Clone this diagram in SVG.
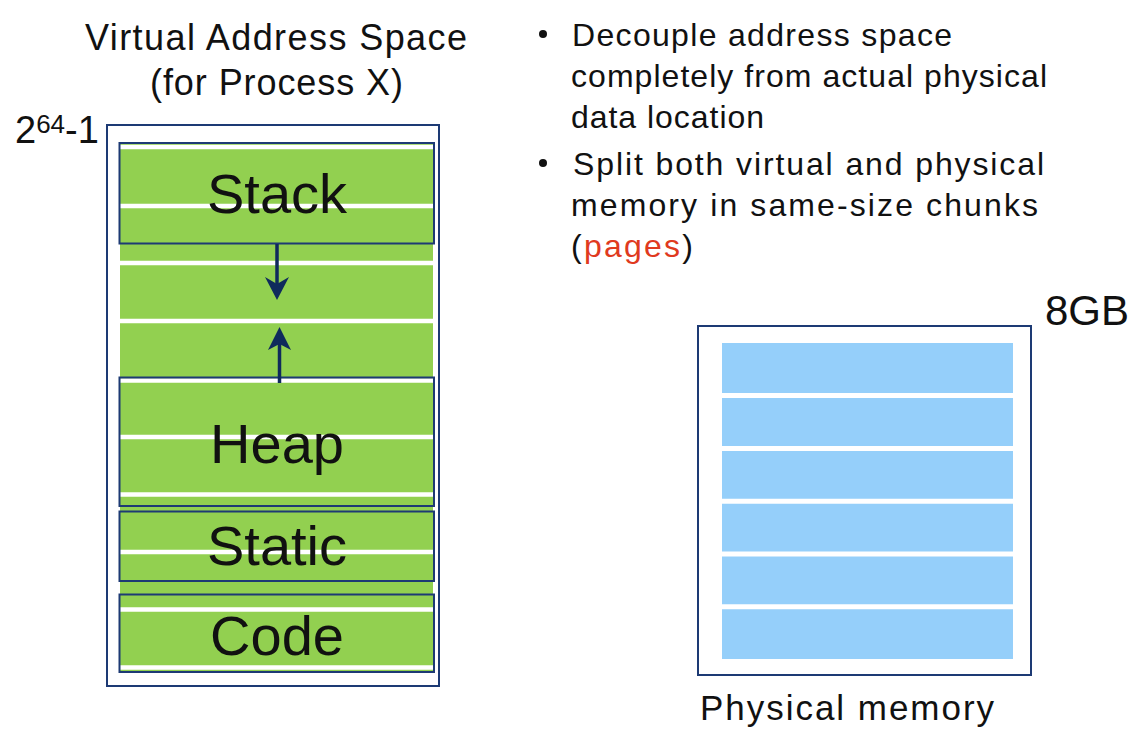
<svg xmlns="http://www.w3.org/2000/svg" width="1145" height="738" viewBox="0 0 1145 738">
<style>
text { font-family: "Liberation Sans", Arial, Helvetica, sans-serif; fill: #111; }
.title { font-size: 36px; text-anchor: middle; }
.seg { font-size: 56px; text-anchor: middle; }
.bul { font-size: 32px; }
.frame { fill: none; stroke: #1D3A74; stroke-width: 2; }
.seg-box { fill: none; stroke: #1D3A74; stroke-width: 2; }
.gline { stroke: #FFFFFF; stroke-width: 4.5; }
.bline { stroke: #FFFFFF; stroke-width: 5; }
.arrow { stroke: #0F2A5C; stroke-width: 3.5; fill: none; }
.head { fill: #0F2A5C; }
.red { fill: #E03A1E; }
</style>
<rect width="1145" height="738" fill="#FFFFFF"/>

<!-- Titles -->
<text class="title" x="276" y="50" textLength="382" lengthAdjust="spacing">Virtual Address Space</text>
<text class="title" x="276.5" y="95" textLength="253" lengthAdjust="spacing">(for Process X)</text>
<text x="15" y="143" font-size="38">2<tspan font-size="26" dy="-10">64</tspan><tspan dy="10">-1</tspan></text>

<!-- Virtual address space -->
<g id="virtual-space">
  <rect class="frame" x="107" y="125" width="332" height="561"/>
  <rect x="120" y="143" width="313" height="529" fill="#92D050"/>
  <g>
    <line class="gline" x1="120" y1="147" x2="433" y2="147"/>
    <line class="gline" x1="120" y1="206" x2="433" y2="206"/>
    <line class="gline" x1="120" y1="263" x2="433" y2="263"/>
    <line class="gline" x1="120" y1="321" x2="433" y2="321"/>
    <line class="gline" x1="120" y1="380.5" x2="433" y2="380.5"/>
    <line class="gline" x1="120" y1="437" x2="433" y2="437"/>
    <line class="gline" x1="120" y1="494.5" x2="433" y2="494.5"/>
    <line class="gline" x1="120" y1="552" x2="433" y2="552"/>
    <line class="gline" x1="120" y1="609.5" x2="433" y2="609.5"/>
    <line class="gline" x1="120" y1="667.5" x2="433" y2="667.5"/>
  </g>
</g>

<g id="stack">
  <rect class="seg-box" x="119.5" y="143" width="314.5" height="100.5"/>
  <text class="seg" x="277" y="213">Stack</text>
</g>
<g id="heap">
  <rect class="seg-box" x="119.5" y="377.5" width="314.5" height="128.5"/>
  <text class="seg" x="277" y="463">Heap</text>
</g>
<g id="static">
  <rect class="seg-box" x="119.5" y="511.5" width="314.5" height="69.5"/>
  <text class="seg" x="277" y="565">Static</text>
</g>
<g id="code">
  <rect class="seg-box" x="119.5" y="594.5" width="314.5" height="77.5"/>
  <text class="seg" x="277" y="655">Code</text>
</g>

<!-- Connectors -->
<g id="connectors">
  <line class="arrow" x1="277" y1="244" x2="277" y2="288"/>
  <polygon class="head" points="265,277 277,300 289,277 277,284"/>
  <line class="arrow" x1="279.5" y1="383" x2="279.5" y2="338"/>
  <polygon class="head" points="268,350 279.5,327 291,350 279.5,344"/>
</g>

<!-- Bullets -->
<g id="bullets">
  <circle cx="543" cy="34" r="4" fill="#111"/>
  <text class="bul" x="572" y="46" textLength="380" lengthAdjust="spacing">Decouple address space</text>
  <text class="bul" x="571" y="87" textLength="476" lengthAdjust="spacing">completely from actual physical</text>
  <text class="bul" x="571" y="128" textLength="193" lengthAdjust="spacing">data location</text>
  <circle cx="543" cy="163" r="4" fill="#111"/>
  <text class="bul" x="573" y="175" textLength="471" lengthAdjust="spacing">Split both virtual and physical</text>
  <text class="bul" x="571" y="216" textLength="467" lengthAdjust="spacing">memory in same-size chunks</text>
  <text class="bul" x="571" y="257" textLength="122" lengthAdjust="spacing">(<tspan class="red">pages</tspan>)</text>
</g>

<!-- Physical memory -->
<g id="physical-memory">
  <rect class="frame" x="698" y="326" width="333" height="349"/>
  <rect x="722" y="343" width="291" height="316" fill="#95CFFA"/>
  <line class="bline" x1="722" y1="395.5" x2="1013" y2="395.5"/>
  <line class="bline" x1="722" y1="448.5" x2="1013" y2="448.5"/>
  <line class="bline" x1="722" y1="501.3" x2="1013" y2="501.3"/>
  <line class="bline" x1="722" y1="554" x2="1013" y2="554"/>
  <line class="bline" x1="722" y1="606.8" x2="1013" y2="606.8"/>
  <text x="1045" y="325" font-size="42">8GB</text>
  <text x="700" y="720" font-size="35" textLength="294" lengthAdjust="spacing">Physical memory</text>
</g>
</svg>
